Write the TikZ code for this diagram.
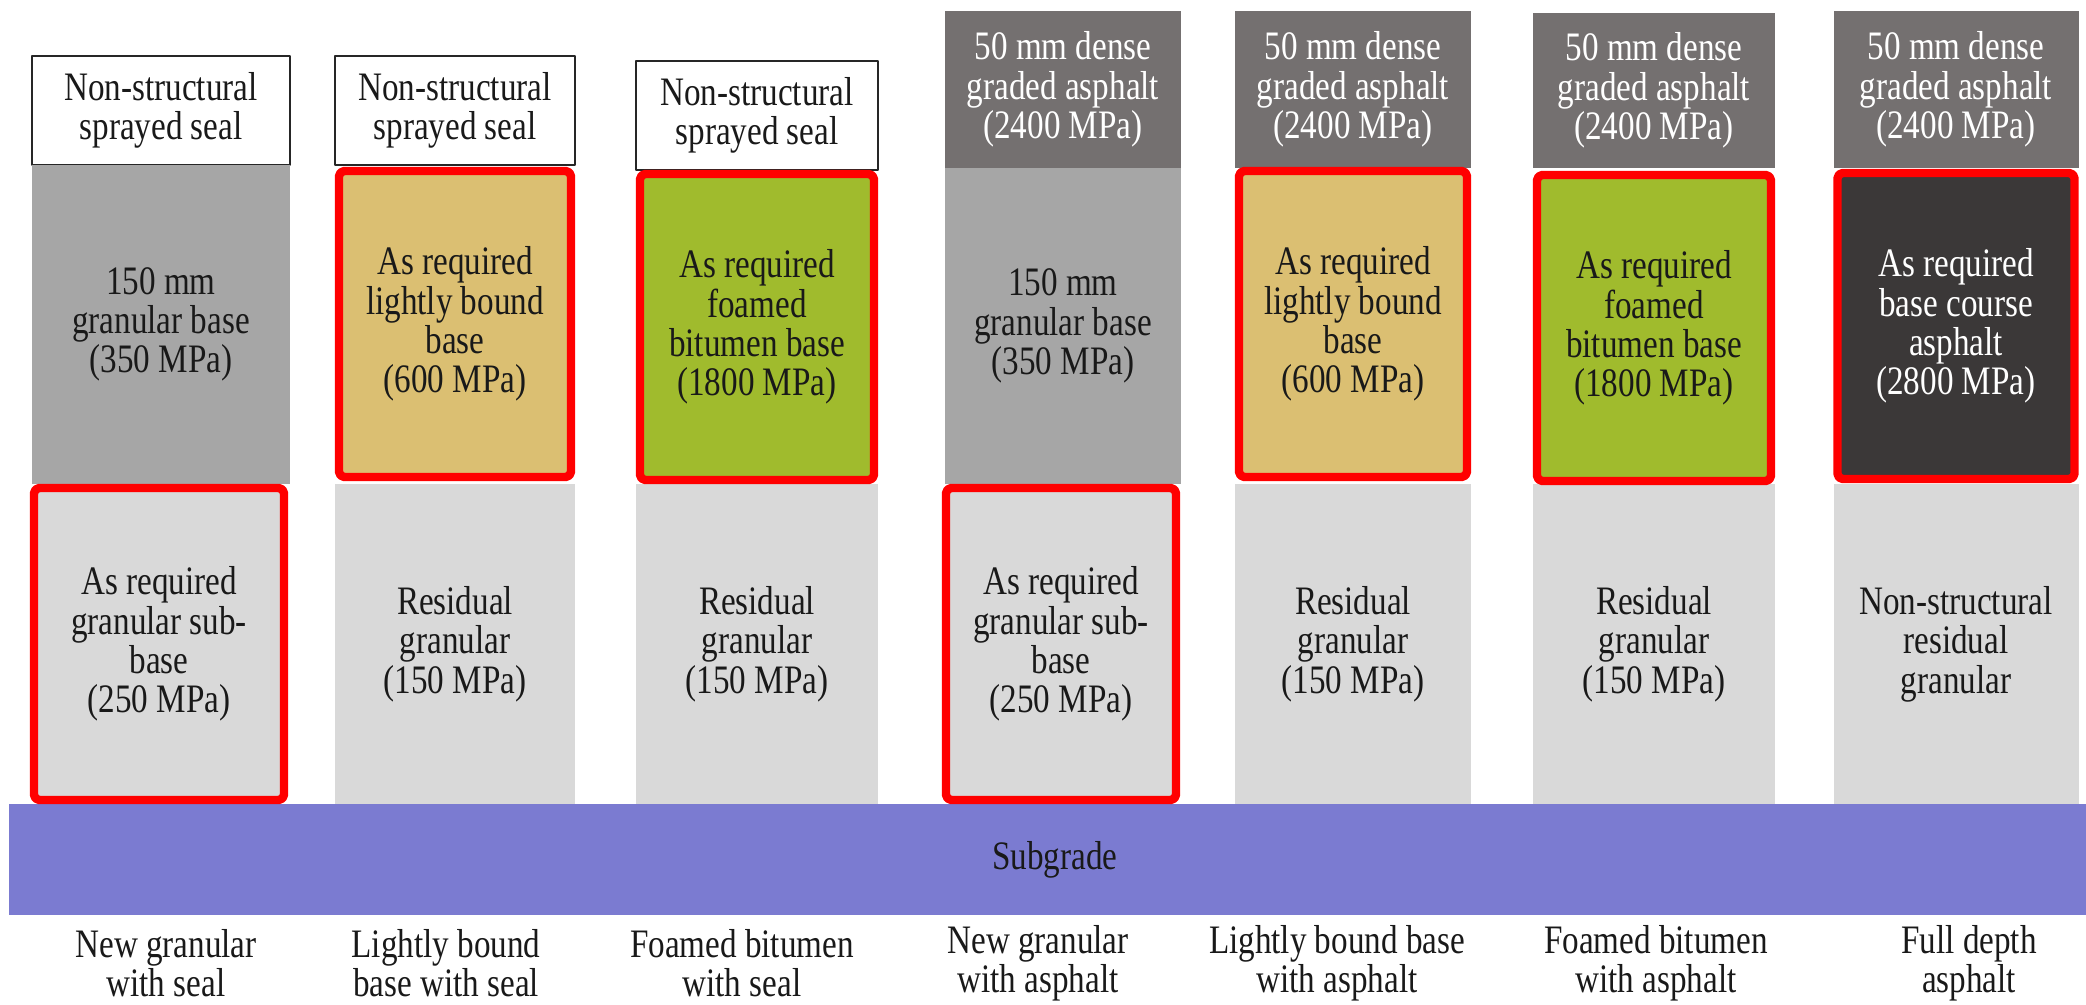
\documentclass[tikz,border=0pt]{standalone}
\usepackage{fontspec}
\setmainfont{Liberation Serif}
\newfontfamily\layerfont[FakeStretch=0.82]{Liberation Serif}
\definecolor{asphalt}{HTML}{747070}
\definecolor{granbase}{HTML}{A6A6A6}
\definecolor{residual}{HTML}{D9D9D9}
\definecolor{lightbound}{HTML}{DBBF72}
\definecolor{foamed}{HTML}{A0BB2D}
\definecolor{basecourse}{HTML}{3B3838}
\definecolor{subgrade}{HTML}{7B7BD1}
\begin{document}
\begin{tikzpicture}[line cap=round,line join=round,
  layer/.style={inner sep=0pt,align=center,text=black!90,font=\layerfont\fontsize{11.5}{11.2}\selectfont},
  size/.style 2 args={minimum width=#1cm,minimum height=#2cm},
  seal/.style={layer,fill=white,draw=black!85,line width=0.6pt},
  hma/.style={layer,fill=asphalt,text=white},
  redbox/.style={draw=red,line width=2.4pt,rounded corners=1.5pt}]
  \useasboundingbox[fill=white] (0,0) rectangle (20.86,10.04);
  \node[layer,fill=subgrade,size={20.77}{1.11}] (subgrade) at (10.475,1.445) {};
  \node[layer] (subgradetext) at (10.55,1.44) {Subgrade};
  \node[seal,size={2.58}{1.09}] (seal1) at (1.61,8.935) {Non-structural\\sprayed seal};
  \node[layer,fill=granbase,size={2.58}{3.19}] (base1) at (1.61,6.795) {150 mm\\granular base\\(350 MPa)};
  \node[layer,fill=residual,redbox,size={2.50}{3.12}] (sub1) at (1.59,3.60) {As required\\granular sub-\\base\\(250 MPa)};
  \node[seal,size={2.40}{1.09}] (seal2) at (4.55,8.935) {Non-structural\\sprayed seal};
  \node[layer,fill=residual,size={2.40}{3.20}] (res2) at (4.55,3.60) {Residual\\granular\\(150 MPa)};
  \node[layer,fill=lightbound,redbox,size={2.32}{3.06}] (base2) at (4.55,6.80) {As required\\lightly bound\\base\\(600 MPa)};
  \node[seal,size={2.42}{1.09}] (seal3) at (7.57,8.885) {Non-structural\\sprayed seal};
  \node[layer,fill=residual,size={2.42}{3.20}] (res3) at (7.57,3.60) {Residual\\granular\\(150 MPa)};
  \node[layer,fill=foamed,redbox,size={2.34}{3.06}] (base3) at (7.57,6.77) {As required\\foamed\\bitumen base\\(1800 MPa)};
  \node[hma,size={2.36}{1.57}] (ac4) at (10.63,9.145) {50 mm dense\\graded asphalt\\(2400 MPa)};
  \node[layer,fill=granbase,size={2.36}{3.16}] (base4) at (10.63,6.78) {150 mm\\granular base\\(350 MPa)};
  \node[layer,fill=residual,redbox,size={2.30}{3.12}] (sub4) at (10.61,3.60) {As required\\granular sub-\\base\\(250 MPa)};
  \node[hma,size={2.36}{1.57}] (ac5) at (13.53,9.145) {50 mm dense\\graded asphalt\\(2400 MPa)};
  \node[layer,fill=residual,size={2.36}{3.20}] (res5) at (13.53,3.60) {Residual\\granular\\(150 MPa)};
  \node[layer,fill=lightbound,redbox,size={2.28}{3.06}] (base5) at (13.53,6.80) {As required\\lightly bound\\base\\(600 MPa)};
  \node[hma,size={2.42}{1.55}] (ac6) at (16.54,9.135) {50 mm dense\\graded asphalt\\(2400 MPa)};
  \node[layer,fill=residual,size={2.42}{3.20}] (res6) at (16.54,3.60) {Residual\\granular\\(150 MPa)};
  \node[layer,fill=foamed,redbox,size={2.34}{3.06}] (base6) at (16.54,6.76) {As required\\foamed\\bitumen base\\(1800 MPa)};
  \node[hma,size={2.45}{1.57}] (ac7) at (19.56,9.145) {50 mm dense\\graded asphalt\\(2400 MPa)};
  \node[layer,fill=residual,size={2.45}{3.20}] (res7) at (19.56,3.60) {Non-structural\\residual\\granular};
  \node[layer,fill=basecourse,text=white,redbox,size={2.37}{3.06}] (base7) at (19.56,6.78) {As required\\base course\\asphalt\\(2800 MPa)};
  \node[layer] (name1) at (1.66,0.41) {New granular\\with seal};
  \node[layer] (name2) at (4.46,0.41) {Lightly bound\\base with seal};
  \node[layer] (name3) at (7.42,0.41) {Foamed bitumen\\with seal};
  \node[layer] (name4) at (10.38,0.41) {New granular\\with asphalt};
  \node[layer] (name5) at (13.37,0.41) {Lightly bound base\\with asphalt};
  \node[layer] (name6) at (16.56,0.41) {Foamed bitumen\\with asphalt};
  \node[layer] (name7) at (19.69,0.41) {Full depth\\asphalt};
\end{tikzpicture}
\end{document}
